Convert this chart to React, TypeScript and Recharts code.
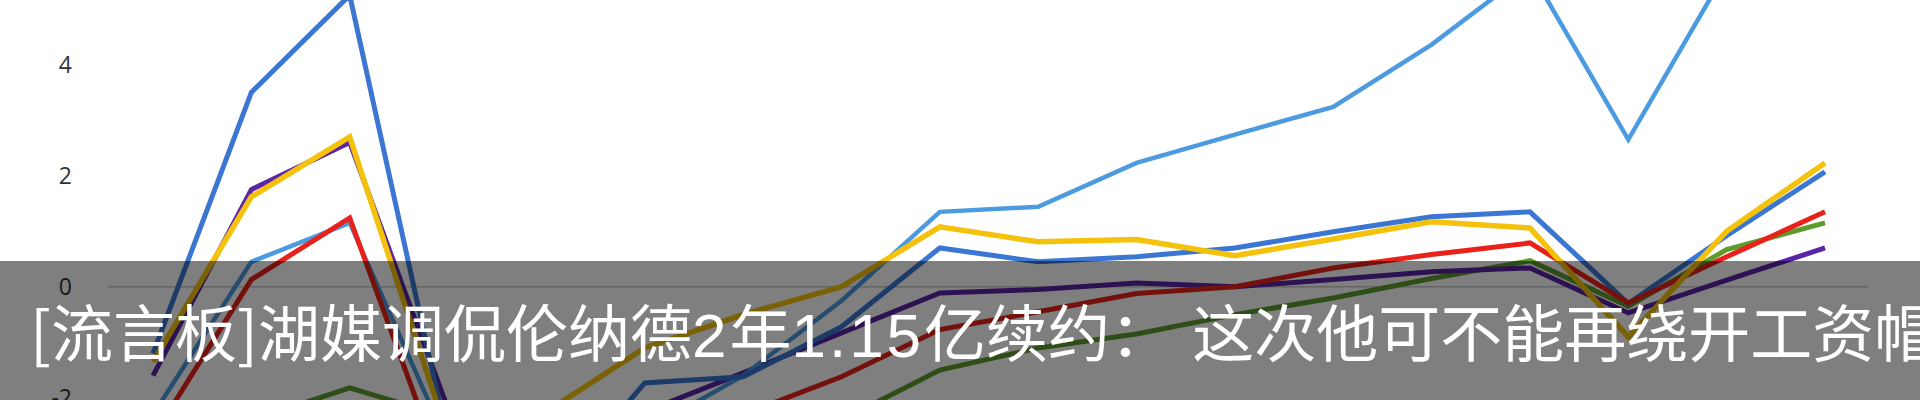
import React from 'react';
import { LineChart, Line, XAxis, YAxis, ReferenceLine } from 'recharts';

const categories = ['P1', 'P2', 'P3', 'P4', 'P5', 'P6', 'P7', 'P8', 'P9', 'P10', 'P11', 'P12', 'P13', 'P14', 'P15', 'P16', 'P17', 'P18'];

const lightBlueValues = [-2.3, 0.45, 1.15, -2.85, -2.8, -2.6, -1.6, -0.25, 1.35, 1.44, 2.23, 2.74, 3.24, 4.36, 5.7, 2.65, 5.7, 6.4];
const blueValues = [-1.2, 3.5, 5.25, -2.8, -3.8, -1.73, -1.62, -0.72, 0.7, 0.45, 0.54, 0.7, 0.99, 1.26, 1.35, -0.3, 0.92, 2.07];
const yellowValues = [-1.35, 1.62, 2.7, -2.7, -2.25, -1.1, -0.5, 0.0, 1.08, 0.81, 0.85, 0.56, 0.86, 1.17, 1.06, -0.9, 1.0, 2.23];
const purpleValues = [-1.6, 1.75, 2.6, -2.2, -2.4, -2.25, -1.55, -0.83, -0.11, -0.05, 0.07, 0.0, 0.13, 0.27, 0.34, -0.47, 0.12, 0.7];
const redValues = [-2.7, 0.13, 1.24, -3.6, -3.0, -2.6, -2.3, -1.62, -0.77, -0.45, -0.12, 0.0, 0.34, 0.58, 0.79, -0.29, 0.54, 1.35];
const greenValues = [-2.8, -2.4, -1.82, -2.35, -2.8, -3.0, -2.8, -2.4, -1.5, -1.1, -0.85, -0.5, -0.2, 0.15, 0.47, -0.35, 0.67, 1.15];

const yTicks = [-2, 0, 2, 4];

const captionParts = ['[流言板]湖媒调侃伦纳德', '2', '年', '1.15', '亿续约', '：', '这次他可不能再绕开工资帽'];

const data = categories.map((name, i) => ({
  name,
  lightBlue: lightBlueValues[i],
  blue: blueValues[i],
  yellow: yellowValues[i],
  purple: purpleValues[i],
  red: redValues[i],
  green: greenValues[i],
}));

const partStyle = (s: string): React.CSSProperties | undefined => {
  if (/^[0-9.]+$/.test(s)) return { fontFamily: '"Liberation Sans", sans-serif', letterSpacing: 3 };
  if (s === '：') return { letterSpacing: 20 };
  return undefined;
};

export default function App() {
  return (
    <div
      style={{
        position: 'fixed',
        left: 0,
        top: 0,
        width: 1920,
        height: 400,
        overflow: 'hidden',
        background: '#ffffff',
      }}
    >
      <div style={{ position: 'absolute', left: 0, top: -102 }}>
        <LineChart width={1920} height={611} data={data} margin={{ top: 0, right: 52, bottom: 0, left: 0 }}>
          <XAxis dataKey="name" hide padding={{ left: 45, right: 43 }} />
          <YAxis
            type="number"
            width={108}
            domain={[-4, 7]}
            ticks={yTicks}
            axisLine={false}
            tickLine={false}
            tickMargin={30}
            tick={{ fill: '#333333', fontSize: 23, fontFamily: '"Open Sans", sans-serif' }}
          />
          <ReferenceLine y={0} stroke="#c8c8c8" strokeWidth={1.5} />
          <Line dataKey="green" stroke="#5E9A2C" strokeWidth={5} dot={false} isAnimationActive={false} />
          <Line dataKey="purple" stroke="#5A25A6" strokeWidth={5} dot={false} isAnimationActive={false} />
          <Line dataKey="lightBlue" stroke="#4C9BE0" strokeWidth={4.5} dot={false} isAnimationActive={false} />
          <Line dataKey="blue" stroke="#3A76D2" strokeWidth={5} dot={false} isAnimationActive={false} />
          <Line dataKey="red" stroke="#E8221B" strokeWidth={5} dot={false} isAnimationActive={false} />
          <Line dataKey="yellow" stroke="#F4C20D" strokeWidth={5.5} dot={false} isAnimationActive={false} />
        </LineChart>
      </div>
      <div
        style={{
          position: 'absolute',
          left: 0,
          top: 261,
          width: 1920,
          height: 139,
          background: 'rgba(0,0,0,0.5)',
        }}
      />
      <div
        style={{
          position: 'absolute',
          left: 30,
          top: 285,
          whiteSpace: 'nowrap',
          color: '#ffffff',
          fontSize: 62,
          lineHeight: 'normal',
          fontFamily: '"Noto Sans CJK SC", sans-serif',
        }}
      >
        {captionParts.map((p, i) => (
          <span key={i} style={partStyle(p)}>
            {p}
          </span>
        ))}
      </div>
    </div>
  );
}
